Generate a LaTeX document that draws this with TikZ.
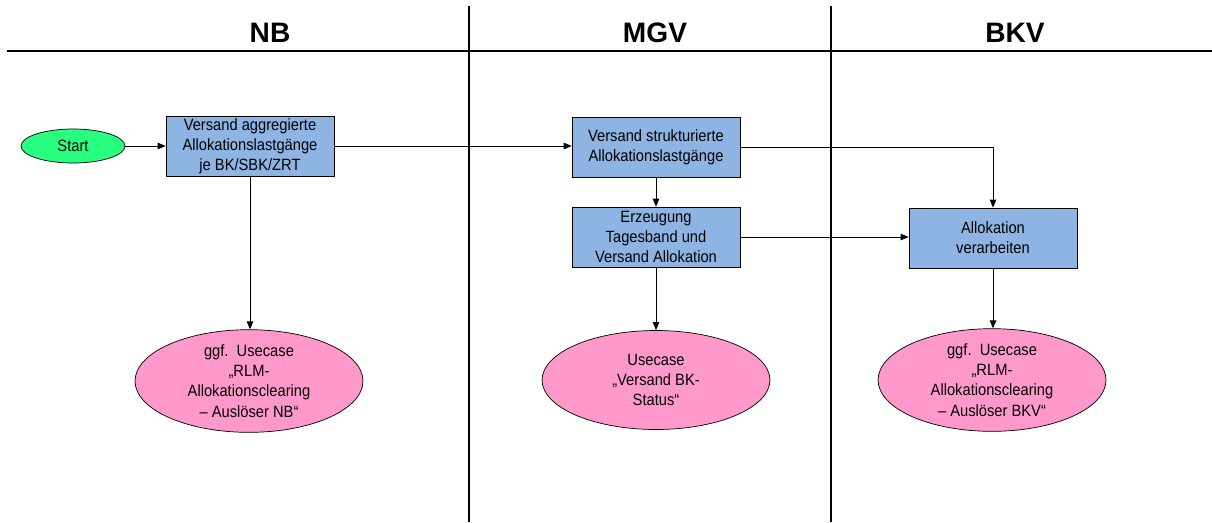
\documentclass[tikz,border=0pt]{standalone}
\usepackage{fontspec}
\setmainfont{Liberation Sans}
\newfontfamily\narrowfont{Liberation Sans}[FakeStretch=0.9]
\usetikzlibrary{arrows.meta,positioning,shapes.geometric}

\definecolor{boxblue}{RGB}{141,180,227}
\definecolor{startgreen}{RGB}{40,255,128}
\definecolor{casepink}{RGB}{255,153,204}

\begin{document}
\begin{tikzpicture}[x=0.02cm, y=-0.02cm,
    box/.style={draw, fill=boxblue, minimum width=3.36cm, minimum height=1.2cm, inner sep=1pt, align=center, font=\narrowfont\fontsize{9.3}{11.5}\selectfont},
    usecase/.style={draw, ellipse, fill=casepink, minimum width=4.56cm, minimum height=1.98cm, inner sep=0pt, align=center, font=\narrowfont\fontsize{9.3}{11.5}\selectfont},
    startnode/.style={draw, ellipse, fill=startgreen, minimum width=2.08cm, minimum height=0.68cm, inner sep=0pt, font=\narrowfont\fontsize{9.3}{11.5}\selectfont},
    lane/.style={line width=1.2pt},
    head/.style={font=\fontsize{16}{19}\selectfont\bfseries},
    arrow/.style={-{Triangle[length=1.6mm, width=1.3mm]}, line width=0.5pt}
]
\useasboundingbox (0,0) rectangle (1212,522);

% Swimlanes
\draw[lane] (7,51) -- (1212,51);
\draw[lane] (469,6) -- (469,522);
\draw[lane] (831,6) -- (831,522);
\node[head] (nb) at (270,33) {NB};
\node[head] (mgv) at (655,33) {MGV};
\node[head] (bkv) at (1015,33) {BKV};

% NB lane
\node[startnode] (start) at (73,146) {Start};
\node[box] (aggr) at (250,146) {Versand aggregierte\\Allokationslastgänge\\je BK/SBK/ZRT};
\node[usecase] (clearnb) at (249,381) {ggf.\ \ Usecase\\„RLM-\\Allokationsclearing\\– Auslöser NB“};

% MGV lane
\node[box] (struk) at (656,147) {Versand strukturierte\\Allokationslastgänge};
\node[box] (band) at (656,237) {Erzeugung\\Tagesband und\\Versand Allokation};
\node[usecase] (status) at (656,380) {Usecase\\„Versand BK-\\Status“};

% BKV lane
\node[box] (verarb) at (993,238) {Allokation\\verarbeiten};
\node[usecase] (clearbkv) at (992,380) {ggf.\ \ Usecase\\„RLM-\\Allokationsclearing\\– Auslöser BKV“};

% Connectors
\draw[arrow] (start) -- (aggr);
\draw[arrow] (aggr.east) -- (aggr.east -| struk.west);
\draw[arrow] (aggr) -- (aggr |- clearnb.north);
\draw[arrow] (struk) -- (band);
\draw[arrow] (struk.east) -| (verarb.north);
\draw[arrow] (band.east) -- (band.east -| verarb.west);
\draw[arrow] (band) -- (band |- status.north);
\draw[arrow] (verarb) -- (verarb |- clearbkv.north);

\end{tikzpicture}
\end{document}
